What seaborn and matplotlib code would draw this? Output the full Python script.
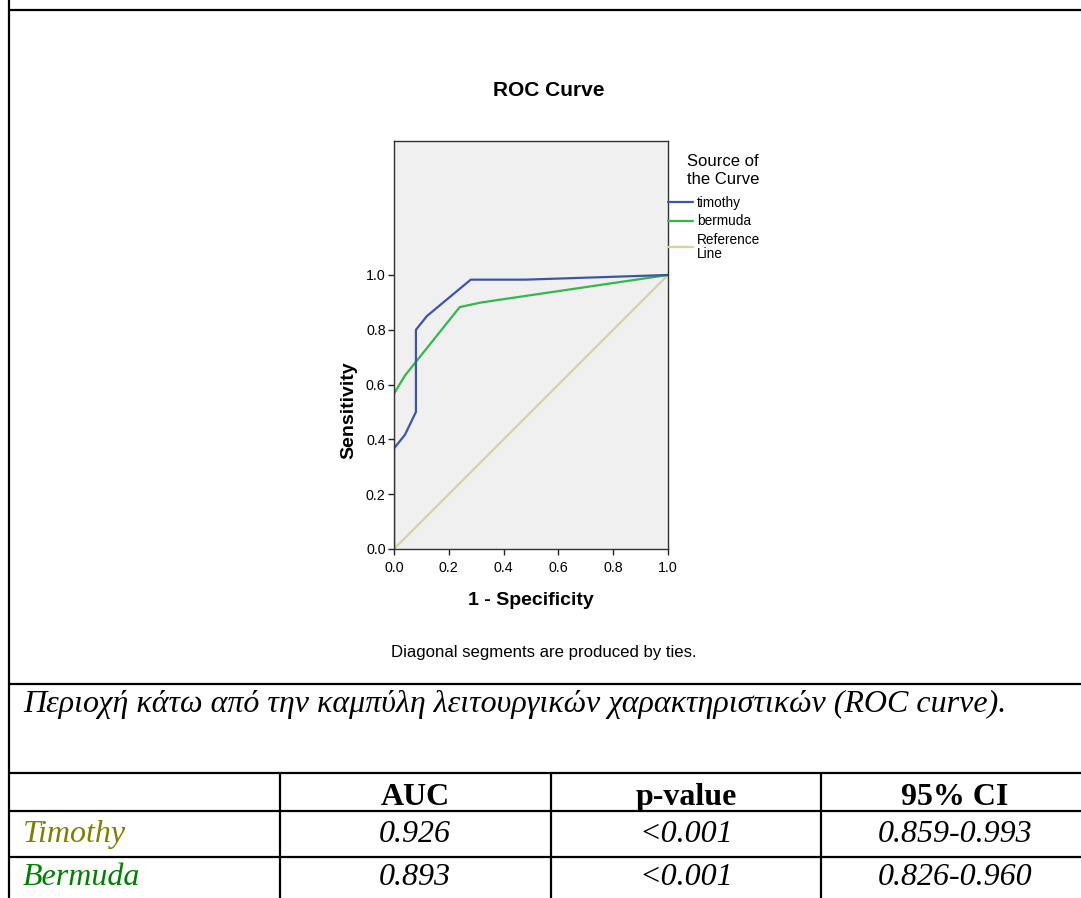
import matplotlib
matplotlib.use("Agg")
import matplotlib.pyplot as plt
from matplotlib.lines import Line2D
import pandas as pd
import seaborn as sns

# ROC coordinates: 1 - specificity (x) and sensitivity (y)
timothy_fpr = [0.0, 0.0, 0.04, 0.08, 0.08, 0.12, 0.28, 0.48, 1.0]
timothy_tpr = [0.0, 0.367, 0.417, 0.5, 0.8, 0.85, 0.983, 0.983, 1.0]
bermuda_fpr = [0.0, 0.0, 0.04, 0.24, 0.32, 1.0]
bermuda_tpr = [0.0, 0.567, 0.633, 0.883, 0.9, 1.0]
reference_fpr = [0.0, 1.0]
reference_tpr = [0.0, 1.0]

curve_names = ["timothy", "bermuda", "Reference Line"]
legend_labels = ["timothy", "bermuda", "Reference\nLine"]
curve_colors = ["#3d55a8", "#31b94a", "#d8d2a2"]

# Summary table
table_header = ["AUC", "p-value", "95% CI"]
row_names = ["Timothy", "Bermuda"]
row_colors = ["#808000", "#008000"]
auc_values = ["0.926", "0.893"]
p_values = ["<0.001", "<0.001"]
ci_values = ["0.859-0.993", "0.826-0.960"]

caption = "Περιοχή κάτω από την καμπύλη λειτουργικών χαρακτηριστικών (ROC curve)."

W, H = 1081, 898


def fx(px):
    return px / W


def fy(py):
    return 1 - py / H


sns.set_style("white")
plt.rcParams["font.family"] = ["Liberation Sans", "DejaVu Sans"]
plt.rcParams["text.color"] = "black"
plt.rcParams["axes.labelcolor"] = "black"
plt.rcParams["xtick.color"] = "black"
plt.rcParams["ytick.color"] = "black"

frames = []
for name, xs, ys in [
    (curve_names[0], timothy_fpr, timothy_tpr),
    (curve_names[1], bermuda_fpr, bermuda_tpr),
    (curve_names[2], reference_fpr, reference_tpr),
]:
    frames.append(pd.DataFrame({"fpr": xs, "tpr": ys, "curve": name}))
roc = pd.concat(frames, ignore_index=True)

fig = plt.figure(figsize=(W / 100, H / 100), dpi=100)
fig.patch.set_facecolor("white")

ax = fig.add_axes([fx(394), fy(549), fx(668) - fx(394), fy(141) - fy(549)])
ax.set_facecolor("#f0f0f0")

palette = dict(zip(curve_names, curve_colors))
# Draw the reference line first so the ROC curves sit on top of it
for name in [curve_names[2], curve_names[1], curve_names[0]]:
    sub = roc[roc["curve"] == name]
    sns.lineplot(data=sub, x="fpr", y="tpr", color=palette[name],
                 estimator=None, sort=False, linewidth=1.6, ax=ax,
                 legend=False)

ax.set_xlim(0, 1)
ax.set_ylim(0, 1.489)
ticks = [0, 0.2, 0.4, 0.6, 0.8, 1.0]
tick_labels = ["0.0", "0.2", "0.4", "0.6", "0.8", "1.0"]
ax.set_xticks(ticks)
ax.set_yticks(ticks)
ax.set_xticklabels(tick_labels)
ax.set_yticklabels(tick_labels)
ax.tick_params(axis="both", which="major", direction="out", length=4,
               width=1, color="#222222", labelsize=10.3, labelcolor="black",
               bottom=True, left=True, top=False, right=False)
ax.tick_params(axis="x", pad=5)
ax.tick_params(axis="y", pad=2)
for spine in ax.spines.values():
    spine.set_color("#333333")
    spine.set_linewidth(1.0)

ax.set_xlabel("1 - Specificity", fontsize=14, fontweight="bold", va="baseline")
ax.xaxis.set_label_coords(0.5, (549 - 605) / 408)
ax.set_ylabel("Sensitivity", fontsize=14, fontweight="bold", va="center")
ax.yaxis.set_label_coords((349 - 394) / 274, (549 - 410) / 408)

fig.text(fx(549), fy(96), "ROC Curve", fontsize=15, fontweight="bold",
         ha="center", va="baseline")

# Legend
fig.text(fx(687), fy(166.5), "Source of", fontsize=12, ha="left", va="baseline")
fig.text(fx(687), fy(184), "the Curve", fontsize=12, ha="left", va="baseline")
handles = [Line2D([], [], color=c, linewidth=1.6) for c in curve_colors]
leg = ax.legend(handles, legend_labels, loc="upper left",
                bbox_to_anchor=(fx(668), fy(196)),
                bbox_transform=fig.transFigure, frameon=False, fontsize=9.8,
                handlelength=1.85, handletextpad=0.3, borderpad=0,
                borderaxespad=0, labelspacing=0.32)
for t in leg.get_texts():
    t.set_linespacing(1.0)

fig.text(fx(544), fy(657), "Diagonal segments are produced by ties.",
         fontsize=12.1, ha="center", va="baseline")

# Frame and table rules
rule = dict(color="black", linewidth=1.6, solid_capstyle="butt")
fig.add_artist(Line2D([fx(9), 1], [fy(10), fy(10)], **rule))
fig.add_artist(Line2D([fx(9), fx(9)], [0, 1], **rule))
for yy in [684, 773, 811, 857]:
    fig.add_artist(Line2D([fx(9), 1], [fy(yy), fy(yy)], **rule))
for xx in [280, 551, 821]:
    fig.add_artist(Line2D([fx(xx), fx(xx)], [fy(773), 0], **rule))

serif = ["Liberation Serif", "DejaVu Serif"]
fig.text(fx(23), fy(712), caption, family=serif, style="italic",
         fontsize=23, ha="left", va="baseline")

col_centers = [415, 686, 955]
for cx, head in zip(col_centers, table_header):
    fig.text(fx(cx), fy(805), head, family=serif, fontweight="bold",
             fontsize=23, ha="center", va="baseline")

row_baselines = [842, 885]
for i, yb in enumerate(row_baselines):
    fig.text(fx(23), fy(yb), row_names[i], family=serif, style="italic",
             color=row_colors[i], fontsize=23, ha="left", va="baseline")
    for cx, val in zip(col_centers, [auc_values[i], p_values[i], ci_values[i]]):
        fig.text(fx(cx), fy(yb), val, family=serif, style="italic",
                 fontsize=23, ha="center", va="baseline")

fig.savefig("out.png", dpi=100, facecolor="white")
